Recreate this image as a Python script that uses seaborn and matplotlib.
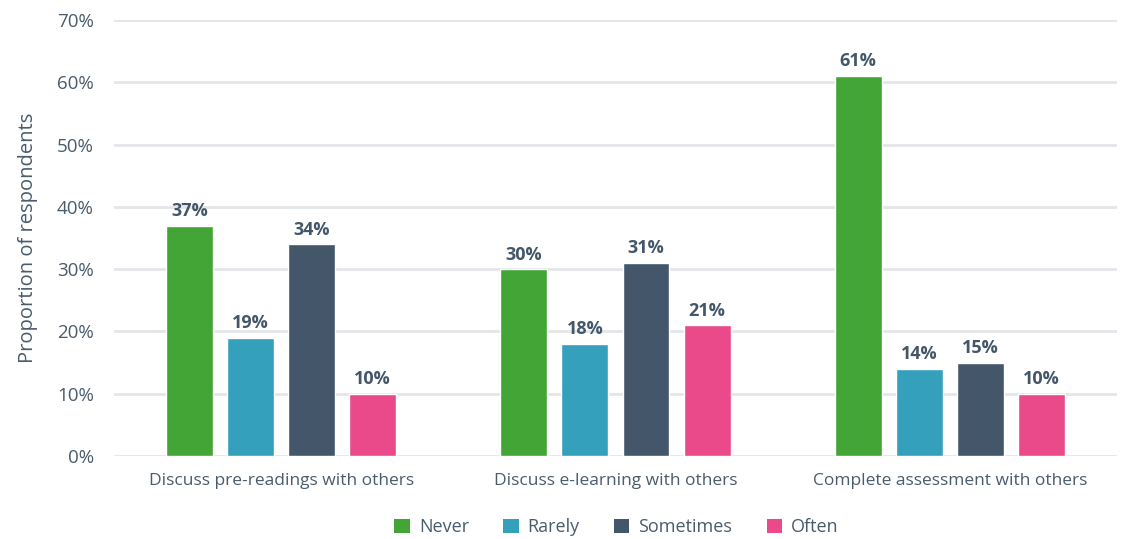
import matplotlib
matplotlib.use("Agg")
import matplotlib.pyplot as plt
import seaborn as sns
import pandas as pd
from matplotlib.patches import Patch

# Survey results: how often respondents do each activity with others
activities = [
    "Discuss pre-readings with others",
    "Discuss e-learning with others",
    "Complete assessment with others",
]
frequencies = ["Never", "Rarely", "Sometimes", "Often"]
never = [37, 30, 61]
rarely = [19, 18, 14]
sometimes = [34, 31, 15]
often = [10, 21, 10]
y_ticks = [0, 10, 20, 30, 40, 50, 60, 70]
palette = ["#43A535", "#34A0BC", "#44576A", "#EA4A8A"]

rows = []
for series, values in zip(frequencies, [never, rarely, sometimes, often]):
    for act, v in zip(activities, values):
        rows.append({"activity": act, "frequency": series, "pct": v})
df = pd.DataFrame(rows)

sns.set_theme(style="white")
plt.rcParams["font.family"] = ["Open Sans", "DejaVu Sans"]
text_color = "#4A5B6C"

fig = plt.figure(figsize=(11.25, 5.39), dpi=100)
ax = fig.add_axes([0.1013, 0.154, 0.8916, 0.809])

sns.barplot(
    data=df, x="activity", y="pct", hue="frequency",
    order=activities, hue_order=frequencies, palette=palette,
    width=0.73, gap=0.23, saturation=1, legend=False, ax=ax, zorder=3,
)

for container in ax.containers:
    ax.bar_label(container, labels=[f"{int(round(b.get_height()))}%" for b in container],
                 padding=4, fontsize=13, fontweight="bold", color="#44576A")

ax.set_ylim(0, 70)
ax.set_xlim(-0.5, 2.5)
ax.set_yticks(y_ticks)
ax.set_yticklabels([f"{t}%" for t in y_ticks], fontsize=13.5, color=text_color)
ax.tick_params(axis="x", labelsize=12.5, colors=text_color, length=0, pad=12)
ax.tick_params(axis="y", length=0, pad=14.5)
ax.yaxis.grid(True, color="#E3E6EA", linewidth=2, zorder=0)
ax.xaxis.grid(False)
for s in ax.spines.values():
    s.set_visible(False)
ax.set_xlabel("")
ax.set_ylabel("Proportion of respondents", fontsize=14.5, color=text_color, labelpad=14)

handles = [Patch(facecolor=c, edgecolor="none") for c in palette]
fig.legend(handles, frequencies, loc="center", bbox_to_anchor=(0.548, 0.022),
           ncol=4, frameon=False, fontsize=13, labelcolor=text_color,
           handlelength=0.85, handleheight=0.85, handletextpad=0.5, columnspacing=1.9)

fig.savefig("out.png", dpi=100)
